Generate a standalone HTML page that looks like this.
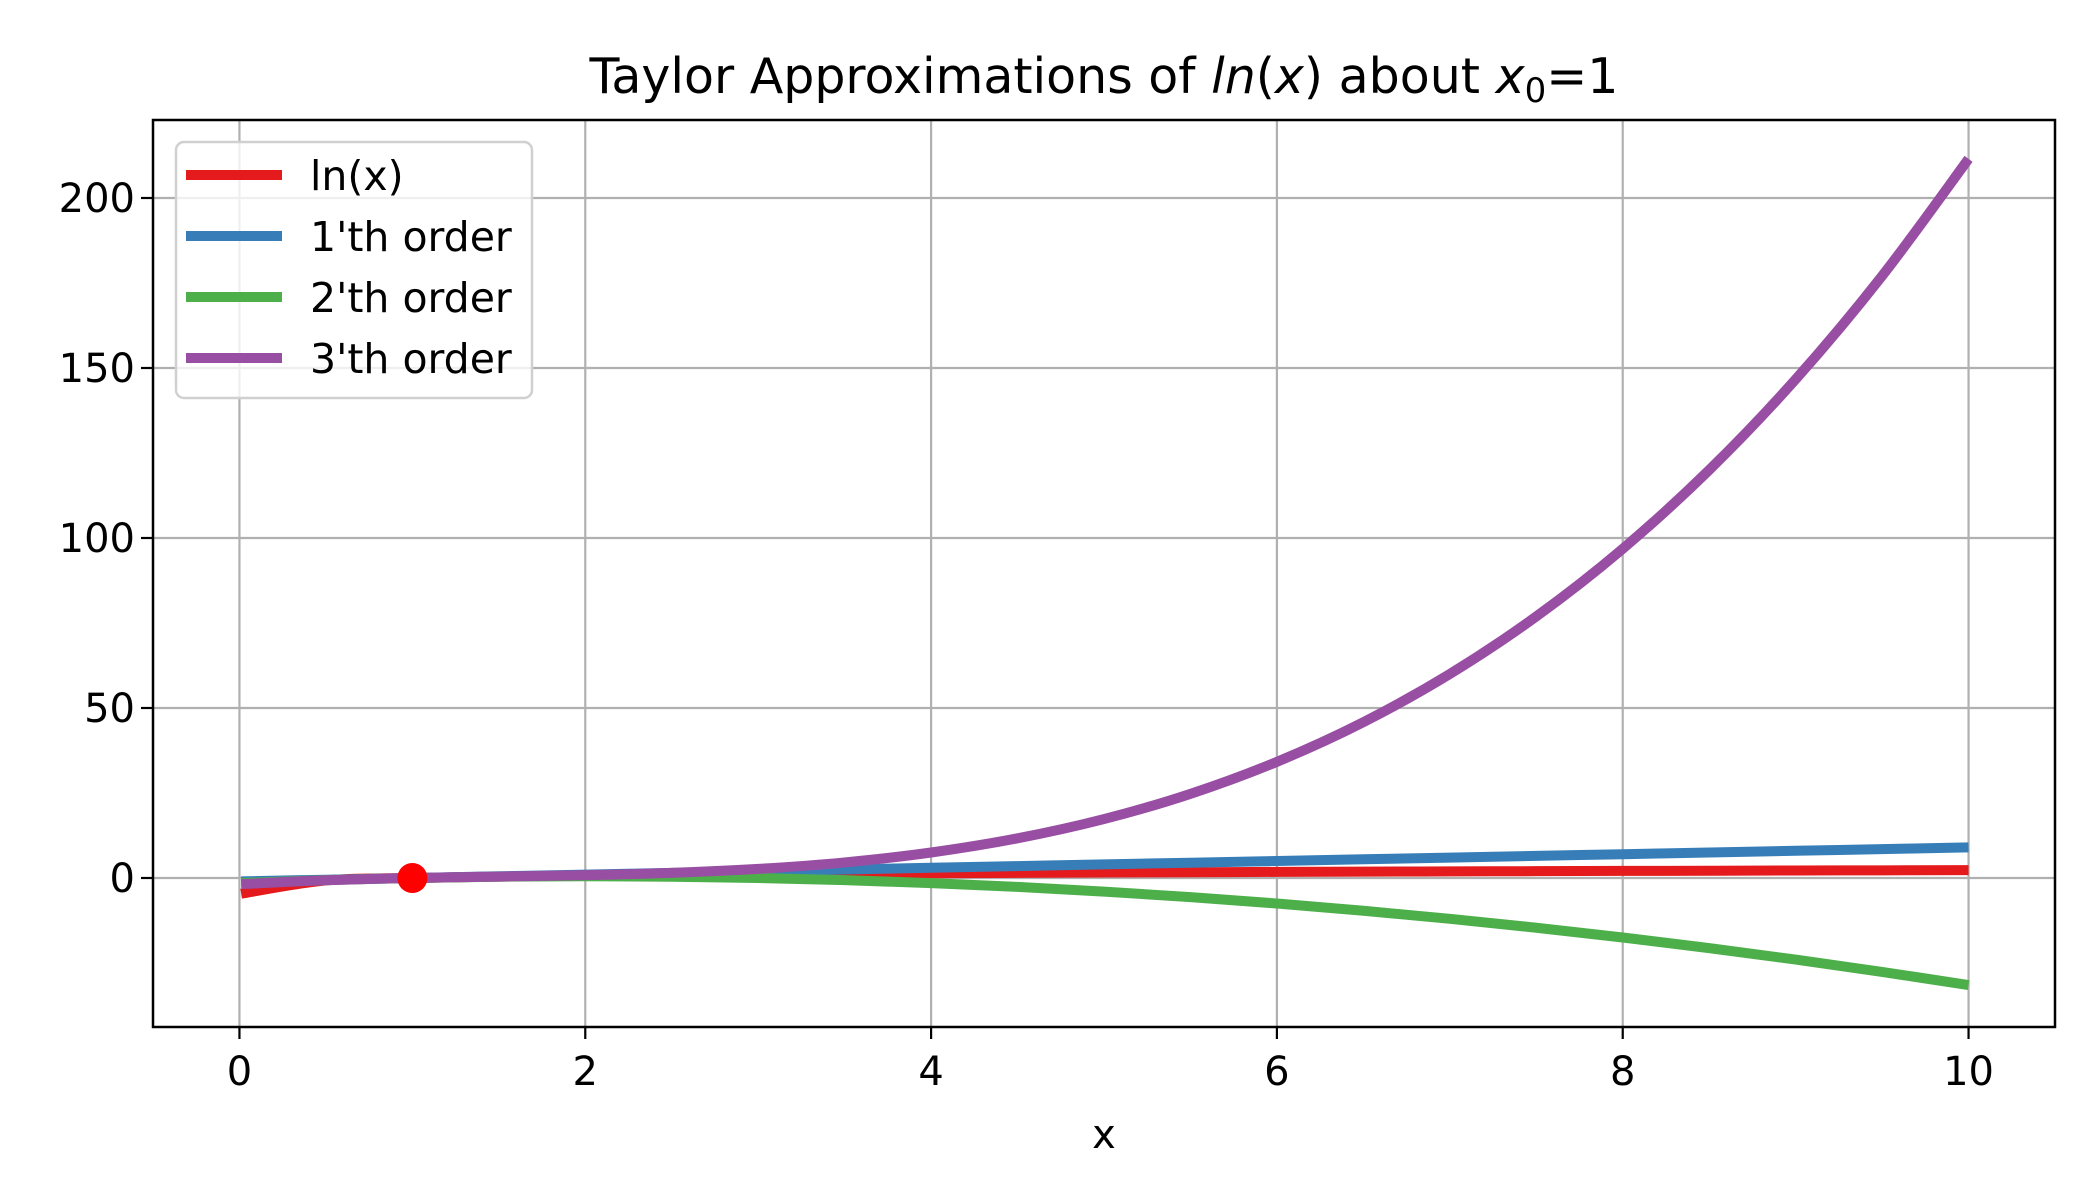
<!DOCTYPE html>
<html><head><meta charset="utf-8"><style>
html,body{margin:0;padding:0;background:#fff;}
svg{display:block;font-family:"DejaVu Sans","Liberation Sans",sans-serif;}
</style></head><body>
<svg id="chart" width="2100" height="1200">
<text x="1104" y="93" font-size="49" text-anchor="middle">Taylor Approximations of <tspan font-style="italic">ln</tspan>(<tspan font-style="italic">x</tspan>) about <tspan font-style="italic">x</tspan><tspan font-size="34" dy="9">0</tspan><tspan dy="-9">=1</tspan></text>
<text x="1104" y="1148" font-size="40" text-anchor="middle">x</text>
<g id="grid"></g><g id="series"></g><g id="axes"></g><g id="legend"></g>
</svg>
<script>
const xs = [0.01,0.5,1,1.5,2,2.5,3,3.5,4,4.5,5,5.5,6,6.5,7,7.5,8,8.5,9,9.5,10];
const lnVals = [-4.61,-0.69,0,0.41,0.69,0.92,1.10,1.25,1.39,1.50,1.61,1.70,1.79,1.87,1.95,2.01,2.08,2.14,2.20,2.25,2.30];
const order1 = [-0.99,-0.5,0,0.5,1,1.5,2,2.5,3,3.5,4,4.5,5,5.5,6,6.5,7,7.5,8,8.5,9];
const order2 = [-1.48,-0.625,0,0.375,0.5,0.375,0,-0.625,-1.5,-2.625,-4,-5.625,-7.5,-9.625,-12,-14.625,-17.5,-20.625,-24,-27.625,-31.5];
const order3 = [-1.80,-0.67,0,0.42,0.83,1.5,2.67,4.58,7.5,11.67,17.33,24.75,34.17,45.83,60,76.92,96.83,120,146.67,177.08,211.5];
const xTicks = [0,2,4,6,8,10];
const yTicks = [0,50,100,150,200];
const seriesNames = ["ln(x)","1'th order","2'th order","3'th order"];
const expPoint = [1,0];

const L=153,R=2055,T=120,B=1027;
const X=v=>L+(v+0.5)/11*(R-L);
const Y=v=>878-v*3.4;
const NS="http://www.w3.org/2000/svg";
function mk(tag,attrs,parent){const e=document.createElementNS(NS,tag);for(const k in attrs)e.setAttribute(k,attrs[k]);parent.appendChild(e);return e;}
const grid=document.getElementById('grid'),axes=document.getElementById('axes'),ser=document.getElementById('series'),leg=document.getElementById('legend');
xTicks.forEach(t=>{
  const g=mk('line',{x1:X(t),x2:X(t),y1:T,y2:B,stroke:'#b0b0b0','stroke-width':2.2},grid);
  
  
  const tk=mk('line',{x1:X(t),x2:X(t),y1:B,y2:B+12,stroke:'#000','stroke-width':2.2},axes);
  
  
  const tx=mk('text',{x:X(t),y:1085,'font-size':40,'text-anchor':'middle'},axes);tx.textContent=t;
  
  
});
yTicks.forEach(t=>{
  const g=mk('line',{x1:L,x2:R,y1:Y(t),y2:Y(t),stroke:'#b0b0b0','stroke-width':2.2},grid);
  
  
  const tk=mk('line',{x1:L-12,x2:L,y1:Y(t),y2:Y(t),stroke:'#000','stroke-width':2.2},axes);
  
  
  const tx=mk('text',{x:L-18,y:Y(t)+14,'font-size':40,'text-anchor':'end'},axes);tx.textContent=t;
  
  
});
const frame=mk('rect',{x:L,y:T,width:R-L,height:B-T,fill:'none',stroke:'#000','stroke-width':2.5},axes);


function pathFor(ys){
  const p=xs.map((x,i)=>[X(x),Y(ys[i])]);
  let d='M'+p[0][0]+','+p[0][1];
  for(let i=0;i<p.length-1;i++){
    const p0=p[Math.max(0,i-1)],p1=p[i],p2=p[i+1],p3=p[Math.min(p.length-1,i+2)];
    const c1=[p1[0]+(p2[0]-p0[0])/6,p1[1]+(p2[1]-p0[1])/6],c2=[p2[0]-(p3[0]-p1[0])/6,p2[1]-(p3[1]-p1[1])/6];
    d+=' C'+c1+' '+c2+' '+p2;
  }
  return d;
}
const data=[lnVals,order1,order2,order3];
const colors=['#e41a1c','#377eb8','#4daf4a','#984ea3'];
const names=['ln-line','order1-line','order2-line','order3-line'];
data.forEach((ys,i)=>{
  const p=mk('path',{d:pathFor(ys),fill:'none',stroke:colors[i],'stroke-width':10},ser);
  
  
});
const dot=mk('circle',{cx:X(expPoint[0]),cy:Y(expPoint[1]),r:15,fill:'#ff0000'},ser);


const box=mk('rect',{x:176,y:142,width:356,height:256,rx:8,fill:'#fff','fill-opacity':0.8,stroke:'#d0d0d0','stroke-width':2.5},leg);


seriesNames.forEach((n,i)=>{
  const y=175+i*61;
  const l=mk('line',{x1:186,x2:282,y1:y,y2:y,stroke:colors[i],'stroke-width':10},leg);
  
  
  const t=mk('text',{x:310,y:y+15,'font-size':41},leg);t.textContent=n;
  
  
});
</script>
</body></html>
